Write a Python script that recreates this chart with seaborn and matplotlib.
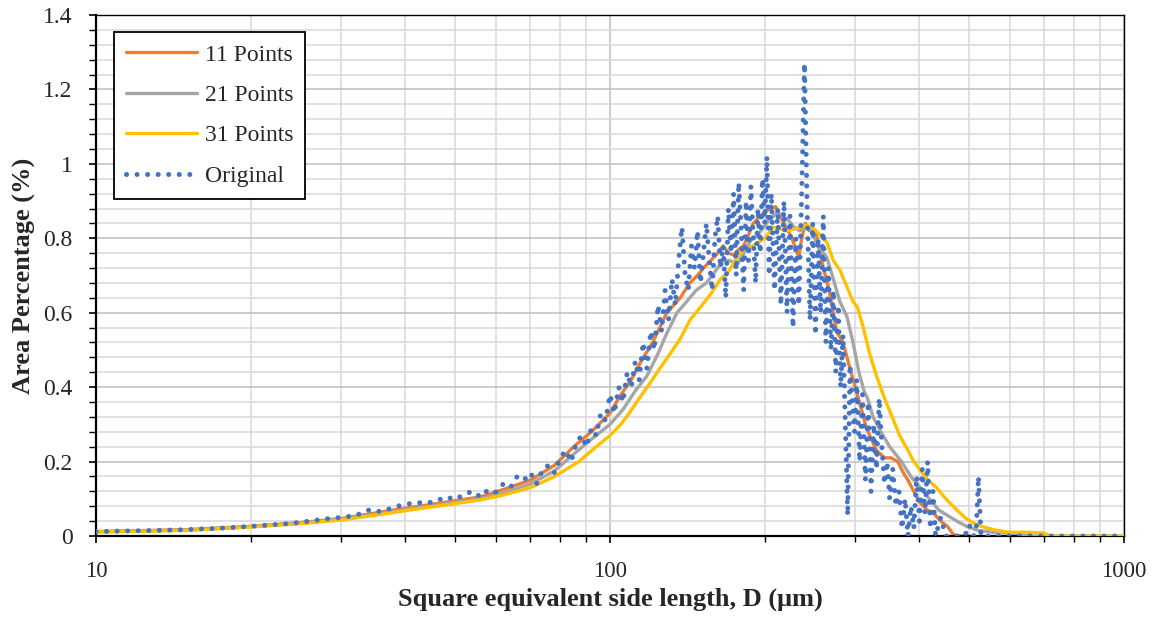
import numpy as np
import pandas as pd
import matplotlib
matplotlib.use("Agg")
import matplotlib.pyplot as plt
import seaborn as sns
from matplotlib.ticker import FixedLocator, MultipleLocator, FuncFormatter, NullFormatter

# ---------------- data ----------------
orig_x = [10, 11, 12, 13, 14, 15, 16, 17, 18, 19, 20, 22, 24, 26, 28, 30, 32, 34, 36, 38,
          40, 42, 44, 46, 48, 50, 52, 54, 56, 58, 60, 62, 64, 66, 68, 70, 72, 74, 76, 78,
          80, 82, 84, 86, 88, 90, 92, 94, 96, 98, 100, 102, 104, 106, 108, 110, 112, 114, 116, 118,
          120, 122, 124, 126, 128, 130, 132, 134, 136, 138, 140, 142, 144, 146, 148, 150, 152, 154, 156, 158,
          160, 162, 164, 166, 168, 170, 172, 174, 176, 178, 180, 182, 184, 186, 188, 190, 192, 194, 196, 198,
          200, 202, 204, 206, 209, 212, 215, 218, 221, 224, 227, 230, 233, 236, 239, 242, 245, 248, 251, 254,
          257, 260, 263, 266, 269, 272, 275, 278, 281, 284, 287, 290, 293, 296, 299, 302, 306, 310, 314, 318,
          322, 326, 330, 334, 338, 342, 346, 350, 355, 360, 365, 370, 375, 380, 385, 390, 395, 400, 405, 410,
          415, 420, 425, 430, 440, 450, 460, 470, 480, 490, 500, 510, 516, 521, 527, 540, 600, 700, 800, 900,
          1000]
orig_y = [0.012, 0.013, 0.014, 0.015, 0.016, 0.017, 0.019, 0.020, 0.022, 0.024, 0.026, 0.030, 0.034, 0.040, 0.046, 0.050, 0.055, 0.070, 0.065, 0.078,
          0.085, 0.090, 0.088, 0.095, 0.105, 0.098, 0.112, 0.120, 0.105, 0.125, 0.118, 0.140, 0.130, 0.160, 0.150, 0.170, 0.140, 0.180, 0.190, 0.170,
          0.210, 0.230, 0.200, 0.250, 0.270, 0.240, 0.290, 0.270, 0.330, 0.310, 0.380, 0.330, 0.400, 0.360, 0.440, 0.400, 0.470, 0.420, 0.520, 0.450,
          0.550, 0.500, 0.620, 0.550, 0.660, 0.580, 0.690, 0.620, 0.740, 0.830, 0.700, 0.660, 0.780, 0.720, 0.820, 0.680, 0.760, 0.840, 0.740, 0.660,
          0.800, 0.860, 0.720, 0.780, 0.640, 0.880, 0.760, 0.920, 0.700, 0.950, 0.820, 0.660, 0.900, 0.740, 0.940, 0.800, 0.680, 0.880, 0.760, 0.960,
          0.840, 1.020, 0.700, 0.920, 0.660, 0.880, 0.620, 0.900, 0.600, 0.860, 0.560, 0.800, 0.620, 0.920, 1.270, 0.860, 0.580, 0.840, 0.540, 0.800,
          0.600, 0.860, 0.520, 0.720, 0.500, 0.660, 0.440, 0.620, 0.400, 0.540, 0.300, 0.055, 0.460, 0.360, 0.280, 0.420, 0.200, 0.380, 0.150, 0.360,
          0.120, 0.300, 0.180, 0.370, 0.240, 0.140, 0.200, 0.100, 0.180, 0.080, 0.120, 0.020, 0.100, 0.000, 0.080, 0.020, 0.160, 0.040, 0.180, 0.060,
          0.200, 0.020, 0.120, 0.000, 0.050, 0.000, 0.000, 0.000, 0.000, 0.000, 0.030, 0.000, 0.020, 0.160, 0.000, 0.000, 0.000, 0.000, 0.000, 0.000,
          0.000]

p11_x = [10, 15, 20, 25, 30, 35, 40, 45, 50, 56, 62, 70, 78, 85, 92, 100, 105, 110, 115, 121,
         129, 137, 143, 148, 152, 157, 162, 166, 170, 174, 178, 182, 186, 190, 196, 202, 206, 210, 214, 218,
         222, 226, 230, 233, 236, 240, 244, 248, 253, 259, 267, 276, 284, 293, 300, 307, 314, 320, 330, 342,
         352, 363, 372, 380, 390, 401, 414, 427, 440, 454, 465, 475, 500]
p11_y = [0.012, 0.017, 0.026, 0.036, 0.047, 0.062, 0.075, 0.085, 0.095, 0.105, 0.125, 0.150, 0.190, 0.240, 0.280, 0.330, 0.380, 0.420, 0.470, 0.520,
         0.600, 0.640, 0.680, 0.700, 0.720, 0.740, 0.760, 0.780, 0.760, 0.755, 0.770, 0.780, 0.810, 0.840, 0.860, 0.875, 0.880, 0.885, 0.860, 0.840,
         0.820, 0.800, 0.770, 0.750, 0.800, 0.840, 0.820, 0.830, 0.800, 0.730, 0.660, 0.550, 0.520, 0.450, 0.400, 0.350, 0.300, 0.270, 0.230, 0.210,
         0.210, 0.200, 0.170, 0.150, 0.120, 0.090, 0.070, 0.060, 0.040, 0.025, 0.005, 0.000, 0.000]

p21_x = [10, 15, 20, 25, 30, 35, 40, 45, 50, 56, 62, 70, 78, 85, 92, 100, 106, 112, 118, 124,
         129, 135, 141, 147, 154, 160, 166, 171, 177, 182, 188, 194, 199, 204, 208, 212, 216, 222, 228, 234,
         240, 245, 250, 256, 264, 272, 280, 289, 297, 305, 312, 317, 325, 335, 350, 369, 385, 401, 418, 436,
         460, 480, 496, 520, 556, 600, 630, 650, 1000]
p21_y = [0.011, 0.016, 0.025, 0.035, 0.045, 0.058, 0.071, 0.081, 0.090, 0.100, 0.115, 0.140, 0.175, 0.220, 0.260, 0.300, 0.340, 0.390, 0.430, 0.490,
         0.545, 0.600, 0.630, 0.660, 0.680, 0.710, 0.740, 0.740, 0.730, 0.760, 0.795, 0.810, 0.830, 0.850, 0.860, 0.870, 0.860, 0.850, 0.830, 0.820,
         0.830, 0.830, 0.800, 0.770, 0.750, 0.690, 0.630, 0.590, 0.520, 0.440, 0.390, 0.370, 0.320, 0.285, 0.240, 0.200, 0.160, 0.130, 0.100, 0.070,
         0.050, 0.035, 0.025, 0.015, 0.010, 0.008, 0.006, 0.000, 0.000]

p31_x = [10, 15, 20, 25, 30, 35, 40, 45, 50, 56, 62, 70, 78, 87, 94, 100, 105, 109, 114, 119.5,
         125, 131, 137, 143, 150, 157, 164, 170, 176, 182, 190, 195, 200, 204, 208, 214, 222, 228, 235, 241,
         247, 256, 264, 272, 280, 289, 297, 303, 311, 320, 330, 342, 354, 366, 380, 390, 401, 416, 432, 450,
         473, 490, 509, 530, 565, 600, 650, 698, 720, 1000]
p31_y = [0.011, 0.015, 0.024, 0.033, 0.043, 0.056, 0.068, 0.078, 0.087, 0.097, 0.110, 0.130, 0.160, 0.200, 0.240, 0.270, 0.300, 0.330, 0.370, 0.410,
         0.450, 0.490, 0.530, 0.580, 0.615, 0.650, 0.690, 0.710, 0.745, 0.770, 0.780, 0.790, 0.800, 0.815, 0.830, 0.825, 0.820, 0.825, 0.830, 0.835,
         0.830, 0.810, 0.790, 0.740, 0.715, 0.670, 0.630, 0.615, 0.560, 0.490, 0.430, 0.370, 0.320, 0.270, 0.230, 0.200, 0.177, 0.150, 0.130, 0.100,
         0.070, 0.050, 0.035, 0.025, 0.015, 0.010, 0.010, 0.008, 0.000, 0.000]

series_names = ["11 Points", "21 Points", "31 Points", "Original"]
series_colors = ["#ED7D31", "#A5A5A5", "#FFC000", "#4472C4"]

y_major = [0, 0.2, 0.4, 0.6, 0.8, 1.0, 1.2, 1.4]
x_major = [10, 100, 1000]

# ---------------- style ----------------
sns.set_theme(style="white")
plt.rcParams["font.family"] = ["Liberation Serif", "DejaVu Serif"]

fig = plt.figure(figsize=(11.58, 6.21), dpi=100)
ax = fig.add_axes([96 / 1158, 1 - 536 / 621, (1124 - 96) / 1158, (536 - 15) / 621])

frames = [
    pd.DataFrame({"x": p11_x, "y": p11_y}),
    pd.DataFrame({"x": p21_x, "y": p21_y}),
    pd.DataFrame({"x": p31_x, "y": p31_y}),
    pd.DataFrame({"x": orig_x, "y": orig_y}),
]

for i, (df, name, col) in enumerate(zip(frames, series_names, series_colors)):
    if name == "Original":
        sns.lineplot(data=df, x="x", y="y", ax=ax, color=col, lw=3.6,
                     linestyle=(0, (0.01, 2.1)), label=name, estimator=None,
                     sort=False, zorder=5)
    else:
        sns.lineplot(data=df, x="x", y="y", ax=ax, color=col, lw=2.4,
                     label=name, estimator=None, sort=False, zorder=2 + i)

for ln in ax.get_lines():
    ln.set_dash_capstyle("round")
    ln.set_solid_capstyle("round")
    ln.set_solid_joinstyle("round")

ax.set_xscale("log")
ax.set_xlim(10, 1000)
ax.set_ylim(0, 1.4)

ax.xaxis.set_major_locator(FixedLocator(x_major))
ax.xaxis.set_minor_locator(FixedLocator([m * d for d in (10, 100) for m in range(2, 10)]))
ax.xaxis.set_major_formatter(FuncFormatter(lambda v, p: "%d" % v))
ax.xaxis.set_minor_formatter(NullFormatter())
ax.yaxis.set_major_locator(FixedLocator(y_major))
ax.yaxis.set_minor_locator(MultipleLocator(0.04))
ax.yaxis.set_major_formatter(FuncFormatter(lambda v, p: "%g" % round(v, 2)))

ax.grid(which="major", color="#BFBFBF", lw=1.1, zorder=0)
ax.grid(which="minor", color="#D9D9D9", lw=1.1, zorder=0)
ax.set_axisbelow(True)

for s in ["left", "bottom"]:
    ax.spines[s].set_color("black")
    ax.spines[s].set_linewidth(1.6)
for s in ["top", "right"]:
    ax.spines[s].set_color("black")
    ax.spines[s].set_linewidth(1.0)

ax.tick_params(axis="both", which="both", direction="out", color="black",
               bottom=True, left=True, top=False, right=False)
ax.tick_params(axis="x", which="major", length=5, width=1.2, pad=13, labelsize=16.5)
ax.tick_params(axis="x", which="minor", length=4, width=1.0)
ax.tick_params(axis="y", which="major", length=5, width=1.2, pad=12, labelsize=17)
ax.tick_params(axis="y", which="minor", length=5, width=1.0)

ax.set_xlabel("Square equivalent side length, D (μm)", fontsize=19, fontweight="bold", labelpad=4)
ax.set_ylabel("Area Percentage (%)", fontsize=19, fontweight="bold", labelpad=5)

handles, labels = ax.get_legend_handles_labels()
leg = ax.legend(handles, labels, loc="upper left", bbox_to_anchor=(0.0175, 0.967),
                frameon=True, fancybox=False, shadow=False, framealpha=1,
                edgecolor="black", fontsize=17, handlelength=3.0, handletextpad=0.35,
                labelspacing=0.8, borderpad=0.5, borderaxespad=0.0)
leg.get_frame().set_linewidth(1.3)
for h in leg.get_lines():
    h.set_dash_capstyle("round")
    h.set_solid_capstyle("round")

fig.savefig("out.png", dpi=100)
